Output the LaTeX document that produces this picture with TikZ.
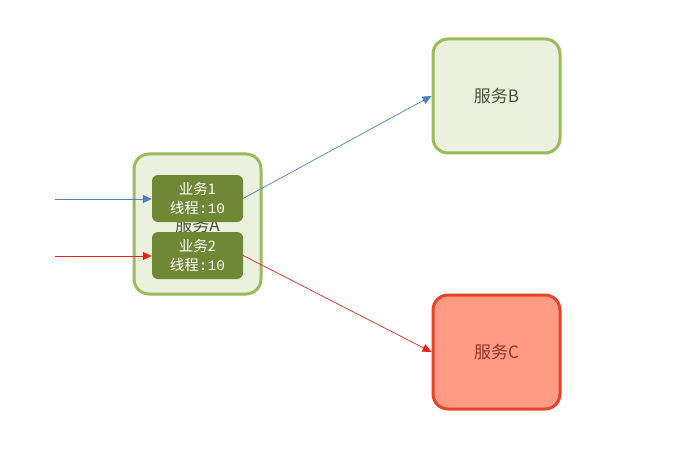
\documentclass[tikz,border=0pt]{standalone}
\usepackage{fontspec}
\setmainfont{Noto Sans CJK SC}
\newfontfamily\monof{Liberation Mono}
\usetikzlibrary{arrows.meta}
\definecolor{svcfill}{HTML}{EBF1DE}
\definecolor{svcline}{HTML}{9BBB59}
\definecolor{bizfill}{HTML}{6F8835}
\definecolor{svctext}{HTML}{4A5235}
\definecolor{cfill}{HTML}{FF9A84}
\definecolor{cline}{HTML}{E8442A}
\definecolor{ctext}{HTML}{8A3A28}
\definecolor{blueline}{HTML}{4F81BD}
\definecolor{redline}{HTML}{E8231A}
\tikzset{
  svc/.style={draw=svcline, line width=3pt, fill=svcfill, rounded corners=15pt, minimum width=127pt, minimum height=114pt, inner sep=0pt, text=svctext, font=\fontsize{17}{20}\selectfont},
  biz/.style={fill=bizfill, rounded corners=6pt, minimum width=91pt, minimum height=47pt, inner sep=0pt, text=white, align=center, font=\fontsize{14.5}{19.5}\selectfont},
  arr/.style={-{Triangle[length=9pt,width=8pt]}, line width=0.7pt}
}
\begin{document}
\begin{tikzpicture}[x=1pt,y=-1pt]
\useasboundingbox (0,0) rectangle (679,449);
\node[svc, minimum height=140pt] (A) at (197.5,224) {};
\node[text=svctext, font=\fontsize{17}{20}\selectfont] (Alabel) at (197.5,225) {服务A};
\node[biz] (b1) at (197.5,198.5) {业务1\\线程{\monof:10}};
\node[biz] (b2) at (197.5,255.5) {业务2\\线程{\monof:10}};
\node[svc] (B) at (496.5,96) {服务B};
\node[svc, draw=cline, fill=cfill, text=ctext] (C) at (496.5,352) {服务C};
\coordinate (in1) at (55,199);
\coordinate (in2) at (55,256);
\draw[arr, blueline] (in1) -- (b1.west |- in1);
\draw[arr, redline] (in2) -- (b2.west |- in2);
\draw[arr, blueline] (b1.east) -- (B.west);
\draw[arr, redline] (b2.east) -- (C.west);
\end{tikzpicture}
\end{document}
